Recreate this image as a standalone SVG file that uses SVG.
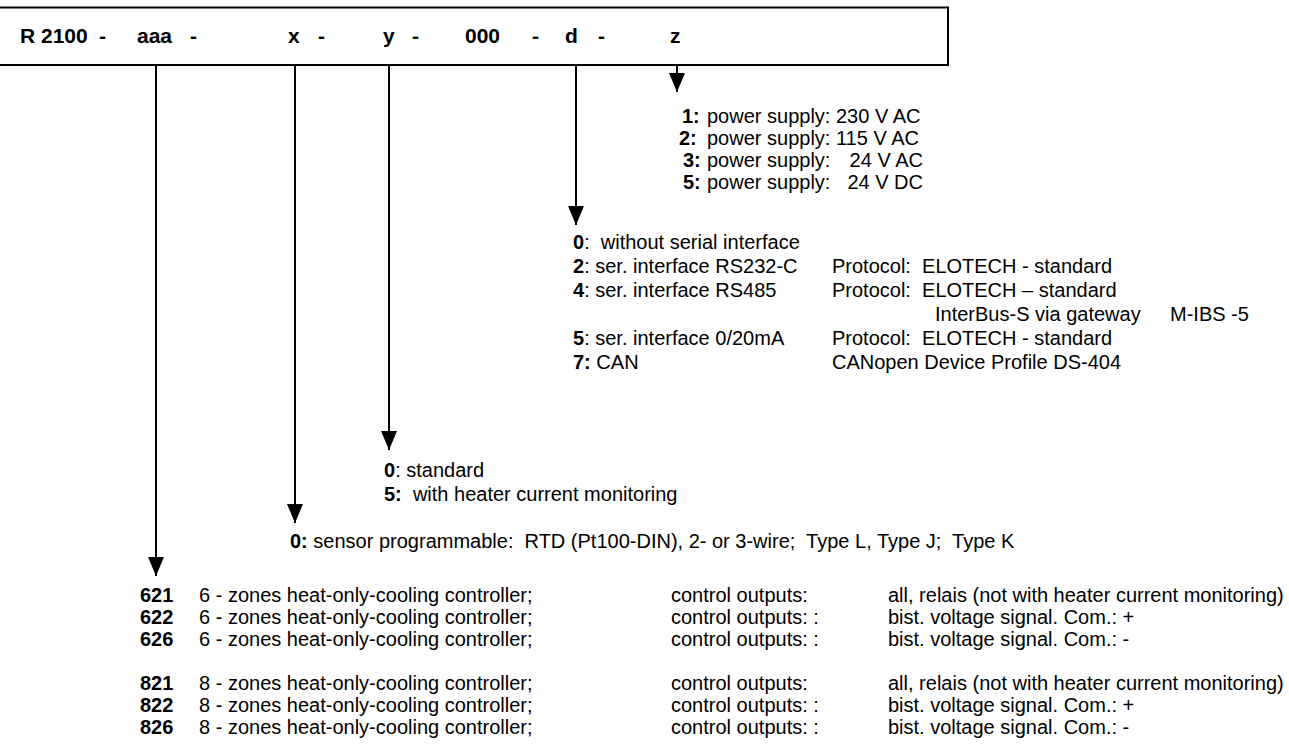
<svg xmlns="http://www.w3.org/2000/svg" width="1289" height="756" viewBox="0 0 1289 756">
<style>
text{font-family:"Liberation Sans",Arial,sans-serif;font-size:20px;fill:#000}
.h{font-size:21px;font-weight:bold}
.b{font-weight:bold}
.ln{stroke:#000;stroke-width:2;fill:none}
</style>
<defs>
<marker id="arr" viewBox="0 -8 19 16" refX="19" refY="0" markerWidth="19" markerHeight="16" markerUnits="userSpaceOnUse" orient="auto">
<path d="M0,-8 L19,0 L0,8 z" fill="#000"/>
</marker>
</defs>
<rect width="1289" height="756" fill="#fff"/>
<g id="header">
<rect x="-3" y="7.5" width="951" height="57.5" fill="#fff" stroke="#000" stroke-width="2"/>
<text class="h" y="43"><tspan x="20">R 2100</tspan><tspan x="99">-</tspan><tspan x="137">aaa</tspan><tspan x="190">-</tspan><tspan x="288">x</tspan><tspan x="318">-</tspan><tspan x="383">y</tspan><tspan x="412">-</tspan><tspan x="465">000</tspan><tspan x="532">-</tspan><tspan x="565">d</tspan><tspan x="598">-</tspan><tspan x="670">z</tspan></text>
</g>
<g id="connectors">
<line class="ln" x1="156" y1="65" x2="156" y2="576" marker-end="url(#arr)"/>
<line class="ln" x1="295" y1="65" x2="295" y2="523" marker-end="url(#arr)"/>
<line class="ln" x1="389" y1="65" x2="389" y2="450" marker-end="url(#arr)"/>
<line class="ln" x1="576" y1="65" x2="576" y2="225" marker-end="url(#arr)"/>
<line class="ln" x1="677" y1="65" x2="677" y2="92" marker-end="url(#arr)"/>
</g>
<g id="z-options">
<text y="123"><tspan class="b" x="682">1:</tspan><tspan x="707">power supply: 230 V AC</tspan></text>
<text y="145"><tspan class="b" x="679">2:</tspan><tspan x="707">power supply: 115 V AC</tspan></text>
<text y="167"><tspan class="b" x="683">3:</tspan><tspan x="707">power supply:</tspan><tspan x="923" text-anchor="end">24 V AC</tspan></text>
<text y="189"><tspan class="b" x="683">5:</tspan><tspan x="707">power supply:</tspan><tspan x="923" text-anchor="end">24 V DC</tspan></text>
</g>
<g id="d-options">
<text y="249" xml:space="preserve"><tspan class="b" x="573">0</tspan><tspan>:  without serial interface</tspan></text>
<text y="273" xml:space="preserve"><tspan class="b" x="573">2</tspan><tspan>: ser. interface RS232-C</tspan><tspan x="832">Protocol:  ELOTECH - standard</tspan></text>
<text y="297" xml:space="preserve"><tspan class="b" x="573">4</tspan><tspan>: ser. interface RS485</tspan><tspan x="832">Protocol:  ELOTECH – standard</tspan></text>
<text y="321"><tspan x="935">InterBus-S via gateway</tspan><tspan x="1170">M-IBS -5</tspan></text>
<text y="345" xml:space="preserve"><tspan class="b" x="573">5</tspan><tspan>: ser. interface 0/20mA</tspan><tspan x="832">Protocol:  ELOTECH - standard</tspan></text>
<text y="369" xml:space="preserve"><tspan class="b" x="573">7:</tspan><tspan> CAN</tspan><tspan x="832">CANopen Device Profile DS-404</tspan></text>
</g>
<g id="y-options">
<text y="477" xml:space="preserve"><tspan class="b" x="384">0</tspan><tspan>: standard</tspan></text>
<text y="501" xml:space="preserve"><tspan class="b" x="384">5:</tspan><tspan>  with heater current monitoring</tspan></text>
</g>
<g id="x-options">
<text y="548" xml:space="preserve"><tspan class="b" x="290">0:</tspan><tspan> sensor programmable:  RTD (Pt100-DIN), 2- or 3-wire;  Type L, Type J;  Type K</tspan></text>
</g>
<g id="aaa-options">
<text y="602"><tspan class="b" x="140">621</tspan><tspan x="199">6 - zones heat-only-cooling controller;</tspan><tspan x="671">control outputs:</tspan><tspan x="888">all, relais (not with heater current monitoring)</tspan></text>
<text y="624"><tspan class="b" x="140">622</tspan><tspan x="199">6 - zones heat-only-cooling controller;</tspan><tspan x="671">control outputs: :</tspan><tspan x="888">bist. voltage signal. Com.: +</tspan></text>
<text y="646"><tspan class="b" x="140">626</tspan><tspan x="199">6 - zones heat-only-cooling controller;</tspan><tspan x="671">control outputs: :</tspan><tspan x="888">bist. voltage signal. Com.: -</tspan></text>
<text y="690"><tspan class="b" x="140">821</tspan><tspan x="199">8 - zones heat-only-cooling controller;</tspan><tspan x="671">control outputs:</tspan><tspan x="888">all, relais (not with heater current monitoring)</tspan></text>
<text y="712"><tspan class="b" x="140">822</tspan><tspan x="199">8 - zones heat-only-cooling controller;</tspan><tspan x="671">control outputs: :</tspan><tspan x="888">bist. voltage signal. Com.: +</tspan></text>
<text y="734"><tspan class="b" x="140">826</tspan><tspan x="199">8 - zones heat-only-cooling controller;</tspan><tspan x="671">control outputs: :</tspan><tspan x="888">bist. voltage signal. Com.: -</tspan></text>
</g>
</svg>
